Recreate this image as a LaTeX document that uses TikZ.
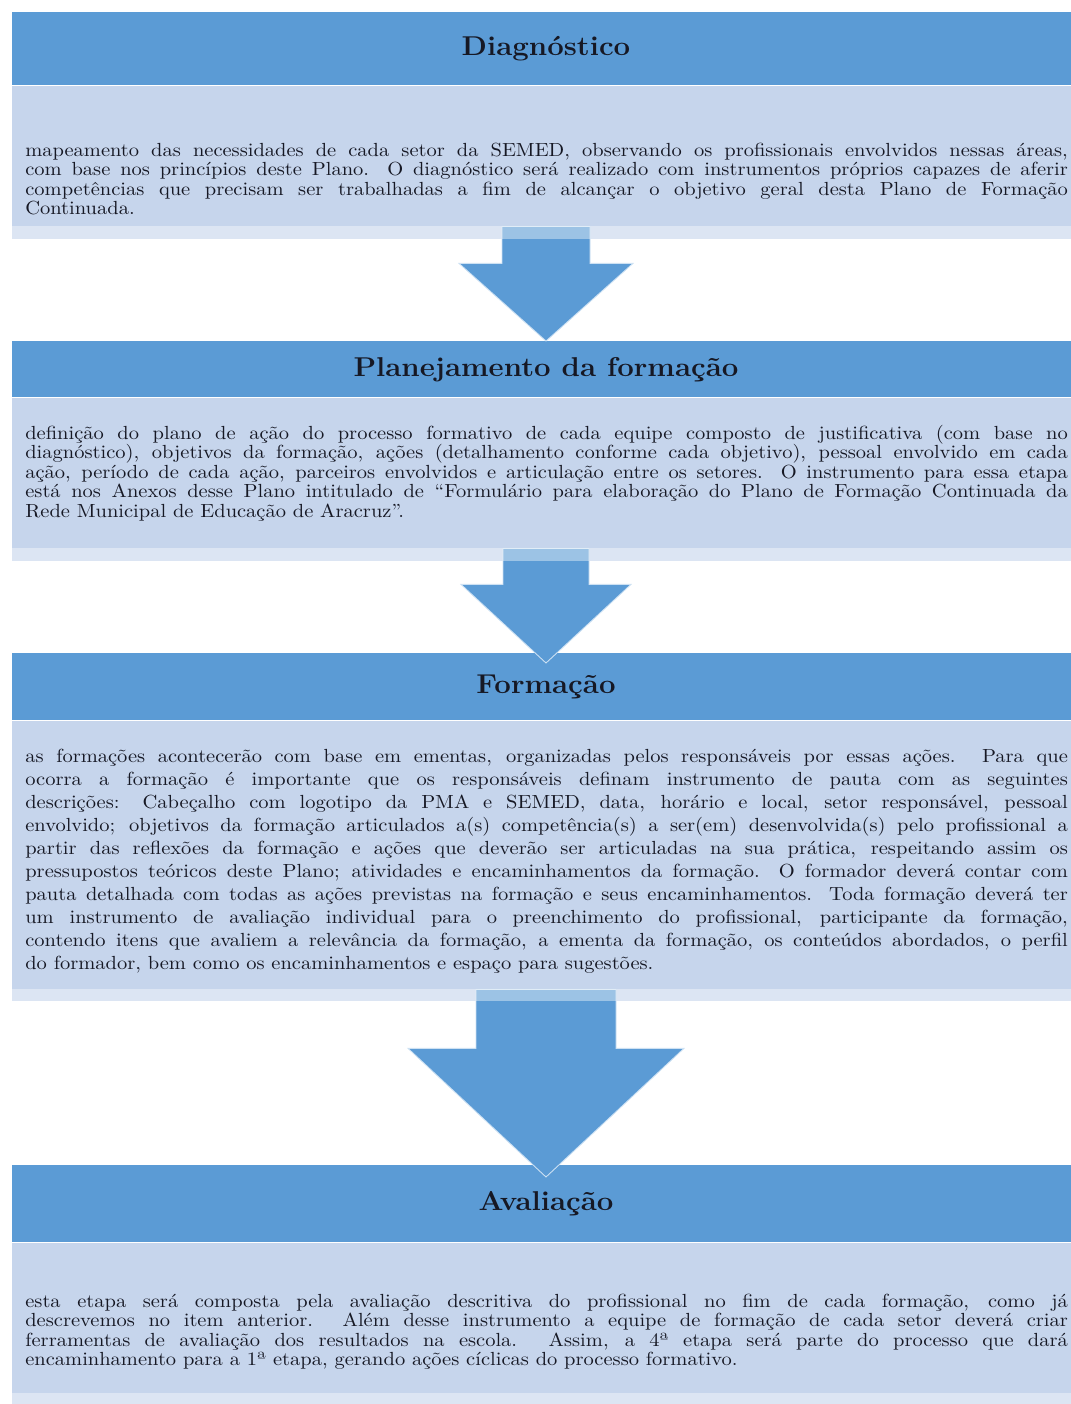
\documentclass[tikz,border=0pt]{standalone}
\usepackage{fontspec}
\usepackage{graphicx}
\usetikzlibrary{calc,positioning}
\definecolor{headblue}{RGB}{91,155,213}
\definecolor{bodyblue}{RGB}{198,213,236}
\definecolor{arrowedge}{RGB}{205,225,243}
\definecolor{inkdark}{RGB}{22,24,36}
\newcommand\stretchx{1.08}
\newcommand\headtext[1]{\scalebox{\stretchx}[1]{\fontsize{15.5}{18}\selectfont\bfseries #1}}
\newcommand\bodytext[2][11.1]{\scalebox{\stretchx}[1]{\parbox[t]{19.31cm}{\fontsize{10.8}{#1}\selectfont #2}}}

\begin{document}
\begin{tikzpicture}[x=0.02cm, y=0.02cm,
  head/.style={fill=headblue, text=inkdark, minimum width=21.36cm, inner sep=0pt, anchor=north},
  body/.style={fill=bodyblue, minimum width=21.36cm, inner sep=0pt, anchor=north},
  band/.style={fill=white, opacity=0.4},
  txt/.style={anchor=base west, inner sep=0pt, text=inkdark},
  blockarrow/.style={fill=headblue, draw=arrowedge, line width=0.5pt, line join=miter}]
\useasboundingbox (0,0) rectangle (1071,-1404);
\clip (0,0) rectangle (1071,-1404);

% Diagnostico
\node[head, minimum height=1.46cm] (h1) at (546,-12) {\headtext{Diagnóstico}};
\node[body, minimum height=3.06cm, below=0pt of h1] (b1) {};
\node[txt] (t1) at (25,-156) {\bodytext{mapeamento das necessidades de cada setor da SEMED, observando os profissionais envolvidos nessas áreas,\linebreak
com base nos princípios deste Plano. O diagnóstico será realizado com instrumentos próprios capazes de aferir\linebreak
competências que precisam ser trabalhadas a fim de alcançar o objetivo geral desta Plano de Formação\linebreak
Continuada.}};

% Planejamento
\node[head, minimum height=1.12cm] (h2) at (546,-341) {\headtext{Planejamento da formação}};
\node[body, minimum height=3.26cm, below=0pt of h2] (b2) {};
\node[txt] (t2) at (25,-439) {\bodytext{definição do plano de ação do processo formativo de cada equipe composto de justificativa (com base no\linebreak
diagnóstico), objetivos da formação, ações (detalhamento conforme cada objetivo), pessoal envolvido em cada\linebreak
ação, período de cada ação, parceiros envolvidos e articulação entre os setores. O instrumento para essa etapa\linebreak
está nos Anexos desse Plano intitulado de “Formulário para elaboração do Plano de Formação Continuada da\linebreak
Rede Municipal de Educação de Aracruz”.}};

% Formacao
\node[head, minimum height=1.34cm] (h3) at (546,-653) {\headtext{Formação}};
\node[body, minimum height=5.6cm, below=0pt of h3] (b3) {};
\node[txt] (t3) at (25,-762) {\bodytext[13.1]{as formações acontecerão com base em ementas, organizadas pelos responsáveis por essas ações. Para que\linebreak
ocorra a formação é importante que os responsáveis definam instrumento de pauta com as seguintes\linebreak
descrições: Cabeçalho com logotipo da PMA e SEMED, data, horário e local, setor responsável, pessoal\linebreak
envolvido; objetivos da formação articulados a(s) competência(s) a ser(em) desenvolvida(s) pelo profissional a\linebreak
partir das reflexões da formação e ações que deverão ser articuladas na sua prática, respeitando assim os\linebreak
pressupostos teóricos deste Plano; atividades e encaminhamentos da formação. O formador deverá contar com\linebreak
pauta detalhada com todas as ações previstas na formação e seus encaminhamentos. Toda formação deverá ter\linebreak
um instrumento de avaliação individual para o preenchimento do profissional, participante da formação,\linebreak
contendo itens que avaliem a relevância da formação, a ementa da formação, os conteúdos abordados, o perfil\linebreak
do formador, bem como os encaminhamentos e espaço para sugestões.}};

% Avaliacao
\node[head, minimum height=1.54cm] (h4) at (546,-1165) {\headtext{Avaliação}};
\node[body, minimum height=3.4cm, below=0pt of h4] (b4) {};
\node[txt] (t4) at (25,-1307) {\bodytext{esta etapa será composta pela avaliação descritiva do profissional no fim de cada formação, como já\linebreak
descrevemos no item anterior. Além desse instrumento a equipe de formação de cada setor deverá criar\linebreak
ferramentas de avaliação dos resultados na escola. Assim, a 4ª etapa será parte do processo que dará\linebreak
encaminhamento para a 1ª etapa, gerando ações cíclicas do processo formativo.}};

% setas
\draw[blockarrow] ($(b1.south)+(-44,13)$) -- ($(b1.south)+(44,13)$) -- ($(b1.south)+(44,-24)$)
  -- ($(b1.south)+(87,-24)$) -- (h2.north) -- ($(b1.south)+(-87,-24)$) -- ($(b1.south)+(-44,-24)$) -- cycle;
\draw[blockarrow] ($(b2.south)+(-43,13)$) -- ($(b2.south)+(43,13)$) -- ($(b2.south)+(43,-23)$)
  -- ($(b2.south)+(85,-23)$) -- ($(h3.north)+(0,-10)$) -- ($(b2.south)+(-85,-23)$) -- ($(b2.south)+(-43,-23)$) -- cycle;
\draw[blockarrow] ($(b3.south)+(-70,12)$) -- ($(b3.south)+(70,12)$) -- ($(b3.south)+(70,-47)$)
  -- ($(b3.south)+(138,-47)$) -- ($(h4.north)+(0,-12)$) -- ($(b3.south)+(-138,-47)$) -- ($(b3.south)+(-70,-47)$) -- cycle;

\fill[band] ($(b1.south west)+(0,13)$) rectangle (b1.south east);
\fill[band] ($(b2.south west)+(0,13)$) rectangle (b2.south east);
\fill[band] ($(b3.south west)+(0,12)$) rectangle (b3.south east);
\fill[band] ($(b4.south west)+(0,20)$) rectangle (b4.south east);
\end{tikzpicture}
\end{document}
